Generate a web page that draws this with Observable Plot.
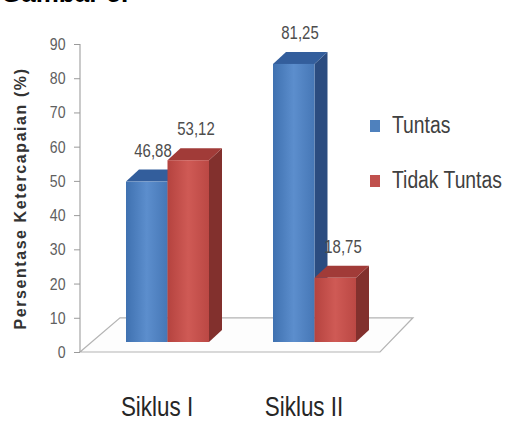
<!DOCTYPE html>
<html>
<head>
<meta charset="utf-8">
<script src="https://cdn.jsdelivr.net/npm/d3@7"></script>
<script src="https://cdn.jsdelivr.net/npm/@observablehq/plot@0.6"></script>
<style>
  body { margin: 0; background: #fff; }
  #wrap { position: relative; width: 513px; height: 421px; overflow: hidden; background: #fff; }
  #cap { position: absolute; left: 1px; top: -20px; font: bold 26px/1 "Liberation Sans", Arial, sans-serif; color: #000; white-space: nowrap; }
  #chart { position: absolute; left: 0; top: 0; }
  .leg { position: absolute; left: 370px; font: 23px/1 "Liberation Sans", Arial, sans-serif; color: #404040; white-space: nowrap; display: flex; align-items: center; }
  .leg span.sw { display: inline-block; width: 10px; height: 12px; margin-right: 12px; }
  .leg span.tx { display: inline-block; transform: scaleX(0.84); transform-origin: 0 50%; }
</style>
</head>
<body>
<div id="wrap">
  <div id="cap">Gambar 5.</div>
  <div id="chart"></div>
  <div id="legend"></div>
</div>
<script>
// ---- data ----
const cycles = ["Siklus I", "Siklus II"];
const series = ["Tuntas", "Tidak Tuntas"];
const tuntas = [46.88, 81.25];
const tidakTuntas = [53.12, 18.75];
const yTicks = [0, 10, 20, 30, 40, 50, 60, 70, 80, 90];
const yTitle = "Persentase Ketercapaian (%)";
const seriesColors = ["#4f81bd", "#c0504d"];

// ---- styling ----
const FONT = '"Liberation Sans", Arial, sans-serif';
const CONDENSE = 0.83;
const DX = 13, DY = -12, LIFT = -10;
const faces = {
  "Tuntas": { top: "#335e9c", side: "#2b4c80", g: ["#3f71b0", "#5c8ecd", "#4677b6"] },
  "Tidak Tuntas": { top: "#a13b38", side: "#82302d", g: ["#b5433f", "#cf5a55", "#bb4844"] }
};

const rows = cycles.flatMap((c, i) => [
  { cycle: c, series: series[0], value: tuntas[i] },
  { cycle: c, series: series[1], value: tidakTuntas[i] }
]);
const fmt = v => v.toFixed(2).replace(".", ",");

function floorRender(index, scales, values, dim) {
  const g = d3.create("svg:g");
  const y0 = scales.y(0);
  const xl = dim.marginLeft, xr = dim.width - dim.marginRight;
  const yb = scales.y(10);
  const pts = [[xl, y0], [xr - 22, y0], [xr + 11, yb], [xl + 40, yb]];
  g.append("polygon").attr("points", pts.map(p => p.join(",")).join(" "))
    .attr("fill", "#fdfdfd").attr("stroke", "#b4b4b4").attr("stroke-width", 1.2);
  g.append("line").attr("x1", xl).attr("x2", xl).attr("y1", scales.y(90)).attr("y2", y0)
    .attr("stroke", "#a6a6a6").attr("stroke-width", 1.2);
  return g.node();
}

function bar3d(index, scales, values, dim) {
  const g = d3.create("svg:g");
  const defs = g.append("defs");
  for (const s of series) {
    const lg = defs.append("linearGradient").attr("id", "grad" + series.indexOf(s))
      .attr("x1", "0").attr("x2", "1").attr("y1", "0").attr("y2", "0");
    faces[s].g.forEach((c, k) => lg.append("stop").attr("offset", k / 2).attr("stop-color", c));
  }
  const band = scales.x.bandwidth ? scales.x.bandwidth() : scales.scales.x.bandwidth;
  const xs = i => values.x1 ? values.x1[i] : values.x[i];
  const ys1 = i => values.y1 ? values.y1[i] : scales.y(0);
  const ys2 = i => values.y2 ? values.y2[i] : values.y[i];
  const order = Array.from(index).sort((a, b) =>
    d3.ascending(xs(a), xs(b)) || d3.ascending(series.indexOf(rows[a].series), series.indexOf(rows[b].series)));
  for (const i of order) {
    const s = rows[i].series, k = series.indexOf(s);
    const bw = band / series.length;
    const x1 = xs(i) + k * bw, x2 = x1 + bw;
    const top = Math.min(ys1(i), ys2(i)) + LIFT;
    const bot = Math.max(ys1(i), ys2(i)) + LIFT;
    const f = faces[s];
    g.append("polygon").attr("points", [[x2, top], [x2 + DX, top + DY], [x2 + DX, bot + DY], [x2, bot]].map(p => p.join(",")).join(" "))
      .attr("fill", f.side);
    g.append("polygon").attr("points", [[x1, top], [x2, top], [x2 + DX, top + DY], [x1 + DX, top + DY]].map(p => p.join(",")).join(" "))
      .attr("fill", f.top);
    g.append("rect").attr("x", x1).attr("y", top).attr("width", bw).attr("height", bot - top)
      .attr("fill", `url(#grad${k})`);
  }
  return g.node();
}

const chart = Plot.plot({
  width: 513,
  height: 421,
  marginLeft: 80,
  marginRight: 111,
  marginTop: 44,
  marginBottom: 69,
  style: { fontFamily: FONT, background: "transparent" },
  x: { domain: cycles, paddingInner: 0.432, paddingOuter: 0.304, axis: null },
  y: { domain: [0, 90], axis: null },
  color: { domain: series, range: seriesColors },
  marks: [
    Plot.ruleY([0], { render: floorRender }),
    Plot.axisY(yTicks, { tickSize: 6, tickPadding: 9, fontSize: 17, fill: "#606060", stroke: "#9a9a9a", label: null }),
    Plot.axisX({ tickSize: 0, tickPadding: 44, fontSize: 27, dx: -11, fill: "#262626", label: null }),
    Plot.barY(rows, { x: "cycle", y1: 0, y2: "value", fill: "series", render: bar3d }),
    Plot.text(rows.filter(d => d.series === series[0]), { x: "cycle", y: "value", text: d => fmt(d.value), dx: -15, dy: -41, fontSize: 18, fill: "#4d4d4d" }),
    Plot.text(rows.filter(d => d.series === series[1]), { x: "cycle", y: "value", text: d => fmt(d.value), dx: 28, dy: -41, fontSize: 18, fill: "#4d4d4d" }),
    Plot.text([yTitle], { text: d => d, frameAnchor: "left", rotate: -90, dx: -60, textAnchor: "middle", fontSize: 16, fontWeight: "bold", fill: "#333" })
  ]
});
document.getElementById("chart").appendChild(chart);

// condense all chart texts (Calibri-like narrow look); stretch the y title to its length
d3.select(chart).selectAll("text").each(function () {
  const isTitle = this.textContent.trim() === yTitle;
  const len = this.getComputedTextLength();
  if (isTitle) {
    const n = yTitle.length;
    d3.select(this).style("letter-spacing", Math.max(0, (262 - len) / n).toFixed(2) + "px");
  } else {
    d3.select(this).attr("textLength", len * CONDENSE).attr("lengthAdjust", "spacingAndGlyphs");
  }
});

// legend
const legTops = [114, 169];
const leg = document.getElementById("legend");
series.forEach((s, k) => {
  const d = document.createElement("div");
  d.className = "leg";
  d.style.top = legTops[k] + "px";
  d.innerHTML = `<span class="sw" style="background:${seriesColors[k]}"></span><span class="tx"></span>`;
  d.lastChild.textContent = s;
  leg.appendChild(d);
});
</script>
</body>
</html>
